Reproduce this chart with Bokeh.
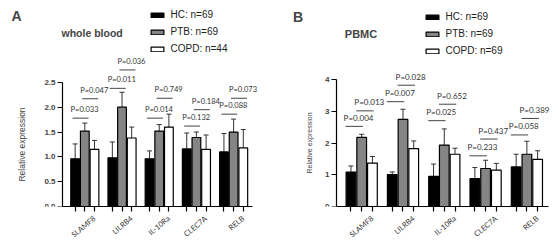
import math
from bokeh.plotting import figure
from bokeh.models import (ColumnDataSource, Range1d, FixedTicker, Whisker, TeeHead,
                          Legend, LegendItem, Label, PrintfTickFormatter)
from bokeh.layouts import row
from bokeh.core.properties import value
from bokeh.embed import file_html
from bokeh.resources import INLINE

genes = ["SLAMF8", "LILRB4", "IL-10Ra", "CLEC7A", "RELB"]
groups = ["HC", "PTB", "COPD"]

# ---- Panel A: whole blood ----
wb_n = [69, 69, 44]
wb_hc = [0.96, 0.98, 0.96, 1.16, 1.10]
wb_hc_sd = [0.30, 0.32, 0.16, 0.32, 0.37]
wb_ptb = [1.52, 2.00, 1.52, 1.39, 1.50]
wb_ptb_sd = [0.16, 0.30, 0.13, 0.11, 0.26]
wb_copd = [1.15, 1.38, 1.60, 1.15, 1.18]
wb_copd_sd = [0.18, 0.22, 0.26, 0.29, 0.37]
wb_p_hc_ptb = ["0.033", "0.011", "0.014", "0.132", "0.088"]
wb_p_ptb_copd = ["0.047", "0.036", "0.749", "0.184", "0.073"]
wb_bracket1 = [1.78, 2.38, 1.78, 1.62, 1.86]
wb_bracket2 = [2.17, 2.75, 2.18, 1.95, 2.18]
wb_yticks = [0.0, 0.5, 1.0, 1.5, 2.0, 2.5]

# ---- Panel B: PBMC ----
pb_n = [69, 69, 69]
pb_hc = [1.09, 1.01, 0.95, 0.88, 1.25]
pb_hc_sd = [0.19, 0.08, 0.39, 0.35, 0.40]
pb_ptb = [2.18, 2.75, 1.94, 1.20, 1.65]
pb_ptb_sd = [0.10, 0.32, 0.51, 0.26, 0.41]
pb_copd = [1.37, 1.83, 1.65, 1.15, 1.49]
pb_copd_sd = [0.21, 0.24, 0.19, 0.21, 0.27]
pb_p_hc_ptb = ["0.004", "0.007", "0.025", "0.233", "0.058"]
pb_p_ptb_copd = ["0.013", "0.028", "0.652", "0.437", "0.389"]
pb_bracket1 = [2.53, 3.31, 2.71, 1.60, 2.26]
pb_bracket2 = [3.02, 3.83, 3.23, 2.13, 2.78]
pb_yticks = [0, 1, 2, 3, 4]

COLORS = ["#000000", "#858585", "#ffffff"]
STEP = 0.26
BW = 0.235
W, H = 279, 248


def panel(letter, title, means, sds, ns, p1, p2, br1, br2, yticks, fmt, geo):
    left = geo["left"]          # pixel x of the y axis inside the figure
    right = geo["right"]
    fb = H - geo["bottom"]      # pixel y of value 0
    ppx, ppy = geo["ppx"], geo["ppy"]
    xa0 = geo["x0"]             # data x at the y axis
    xstart = xa0 - left / ppx
    xend = xa0 + (W - right - left) / ppx
    ytop = fb / ppy

    def dx(px):
        return xa0 + (px - left) / ppx

    def dy(py):
        return (fb - py) / ppy

    p = figure(width=W, height=H, x_range=Range1d(xstart, xend), y_range=Range1d(0, ytop),
               output_backend="svg", toolbar_location=None,
               min_border_left=0, min_border_right=right,
               min_border_top=0, min_border_bottom=geo["bottom"])
    p.xgrid.visible = False
    p.ygrid.visible = False
    p.outline_line_color = None
    p.border_fill_color = "white"
    p.background_fill_color = "white"

    n = len(genes)
    renderers = []
    for k in range(3):
        xs = [i + (k - 1) * STEP for i in range(n)]
        src = ColumnDataSource(dict(x=xs, top=means[k], up=[m + s for m, s in zip(means[k], sds[k])]))
        r = p.vbar(x="x", top="top", width=BW, source=src, fill_color=COLORS[k],
                   line_color="black", line_width=1.2)
        renderers.append(r)
        wk = Whisker(source=src, base="x", lower="top", upper="up", line_color="#333333",
                     line_width=1, upper_head=TeeHead(size=5, line_color="#333333", line_width=1),
                     lower_head=None)
        p.add_layout(wk)

    # significance brackets
    segx0, segx1, segy, tx, ty, tt = [], [], [], [], [], []
    for a, b, pv, br in [(0, 1, p1, br1), (1, 2, p2, br2)]:
        for i in range(n):
            xa = i + (a - 1) * STEP - geo["ls"]
            xb = i + (b - 1) * STEP + geo["le"]
            segx0.append(xa)
            segx1.append(xb)
            segy.append(br[i])
            tx.append(xa - 2 / ppx)
            ty.append(br[i] + 8.5 / ppy)
            tt.append("P=" + pv[i])
    p.segment(x0=segx0, y0=segy, x1=segx1, y1=segy, line_color="#444444", line_width=1)
    p.text(x=tx, y=ty, text=tt, text_font=value("Lato"), text_font_size=geo["pfs"],
           text_align="left", text_baseline="middle", text_color="#333333")

    # x axis
    xa_ = p.xaxis[0]
    xa_.bounds = (xa0, geo["xend"])
    xa_.ticker = FixedTicker(ticks=[i + STEP for i in range(n)],
                             minor_ticks=[i + (k - 1) * STEP for i in range(n) for k in (0, 1)])
    xa_.major_label_overrides = {i + STEP: g for i, g in enumerate(genes)}
    xa_.major_label_orientation = math.radians(40)
    xa_.major_label_text_font = "Lato"
    xa_.major_label_text_font_size = "7.5px"
    xa_.major_label_text_color = "#333333"
    xa_.major_label_standoff = geo["xstand"]
    xa_.major_tick_in = 0
    xa_.major_tick_out = 5
    xa_.minor_tick_in = 0
    xa_.minor_tick_out = 5
    xa_.minor_tick_line_color = "black"
    xa_.major_tick_line_color = "black"
    xa_.axis_line_color = "black"
    xa_.axis_line_width = 1.2
    xa_.major_tick_line_width = 1.2
    xa_.minor_tick_line_width = 1.2

    # y axis, drawn at a fixed x inside the frame
    ya = p.yaxis[0]
    ya.fixed_location = xa0
    ya.ticker = FixedTicker(ticks=yticks, minor_ticks=[])
    ya.bounds = (yticks[0], yticks[-1])
    ya.formatter = PrintfTickFormatter(format=fmt)
    ya.major_label_text_font = "Liberation Sans"
    ya.major_label_text_font_style = "bold"
    ya.major_label_text_font_size = "8px"
    ya.major_label_standoff = 2
    ya.major_tick_in = 0
    ya.major_tick_out = 5
    ya.minor_tick_out = 0
    ya.axis_line_color = "black"
    ya.axis_line_width = 1.2
    ya.major_tick_line_width = 1.2
    ya.axis_label = "Relative expression"
    ya.axis_label_text_font = "Liberation Sans"
    ya.axis_label_text_font_style = "normal"
    ya.axis_label_text_font_size = geo["ylfs"]
    ya.axis_label_standoff = geo["ylstand"]

    legend = Legend(items=[LegendItem(label=f"{g}: n={nn}", renderers=[r])
                           for g, nn, r in zip(groups, ns, renderers)],
                    location=(geo["leg"][0], fb - geo["leg"][1]), orientation="vertical",
                    glyph_width=16, glyph_height=6, label_height=6, spacing=6,
                    padding=0, margin=0, border_line_color=None, background_fill_alpha=0,
                    label_standoff=6, label_text_font="Liberation Sans",
                    label_text_line_height=0.5,
                    label_text_font_size="10px", label_text_color="#222222")
    p.add_layout(legend)

    p.add_layout(Label(x=dx(geo["letter"][0]), y=dy(geo["letter"][1]),
                       text=letter, text_font="Liberation Sans", text_font_style="bold",
                       text_font_size="14px", text_baseline="middle", text_align="left"))
    p.add_layout(Label(x=dx(geo["title"][0]), y=dy(geo["title"][1]),
                       text=title, text_font="Liberation Sans", text_font_style="bold",
                       text_font_size=geo["tfs"], text_baseline="middle", text_align="left"))
    return p


# leg = (left pixel of legend, bottom pixel of legend) inside each panel
geoA = dict(left=62, right=10, bottom=40, ppx=37.2, ppy=50.13, x0=-0.6, xend=4.51,
            ls=0.07, le=0.10, pfs="7.5px", xstand=6, ylfs="8.5px", ylstand=14,
            leg=(148.5, 56), letter=(11, 16), title=(61, 33.3), tfs="10.5px")
geoB = dict(left=57, right=2, bottom=42, ppx=41.3, ppy=31.67, x0=-0.61, xend=4.52,
            ls=0.13, le=0.03, pfs="8px", xstand=6, ylfs="7px", ylstand=9,
            leg=(144.5, 56), letter=(13.6, 16), title=(65.3, 33.3), tfs="11px")

pA = panel("A", "whole blood", [wb_hc, wb_ptb, wb_copd], [wb_hc_sd, wb_ptb_sd, wb_copd_sd], wb_n,
           wb_p_hc_ptb, wb_p_ptb_copd, wb_bracket1, wb_bracket2, wb_yticks, "%.1f", geoA)
pB = panel("B", "PBMC", [pb_hc, pb_ptb, pb_copd], [pb_hc_sd, pb_ptb_sd, pb_copd_sd], pb_n,
           pb_p_hc_ptb, pb_p_ptb_copd, pb_bracket1, pb_bracket2, pb_yticks, "%d", geoB)

layout = row(pA, pB, spacing=0)
open("out.html", "w").write(file_html(layout, INLINE))
